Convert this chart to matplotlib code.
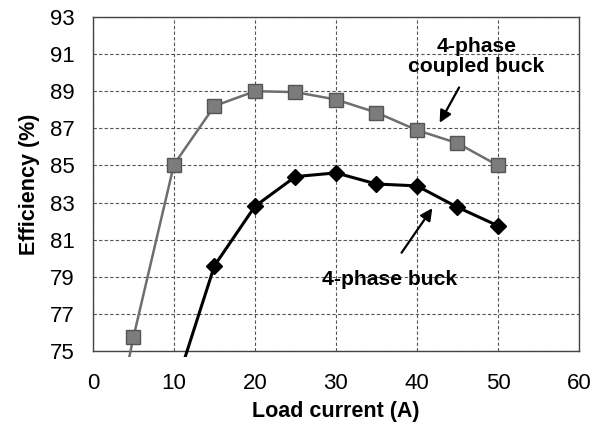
## Efficiency vs load current: 4-phase buck vs 4-phase coupled buck
import numpy as np
import matplotlib.pyplot as plt
from matplotlib.patches import Rectangle

plt.rcParams['font.family'] = ['Liberation Sans', 'DejaVu Sans']

## Data
load_coupled = [2.5, 5, 10, 15, 20, 25, 30, 35, 40, 45, 50]
eff_coupled  = [70.5, 75.75, 85.05, 88.2, 89.0, 88.95, 88.55, 87.85, 86.9, 86.2, 85.0]

load_buck = [10, 15, 20, 25, 30, 35, 40, 45, 50]
eff_buck  = [72.8, 79.6, 82.8, 84.4, 84.6, 84.0, 83.9, 82.75, 81.75]

x_ticks = [0, 10, 20, 30, 40, 50, 60]
y_ticks = [75, 77, 79, 81, 83, 85, 87, 89, 91, 93]

## Figure
fig = plt.figure(figsize=(5.92, 4.34), dpi=100)
ax = fig.add_axes([0.157, 0.191, 0.821, 0.770])

# lines leak a little below the frame, like in the original
clip = Rectangle((0, -0.018), 1, 1.018, transform=ax.transAxes)

l1, = ax.plot(load_coupled, eff_coupled, '-', color='#6e6e6e', lw=1.8,
              marker='s', ms=10, mfc='#7c7c7c', mec='#555555', zorder=3)
l2, = ax.plot(load_buck, eff_buck, '-', color='black', lw=2.2,
              marker='D', ms=8, mfc='black', mec='black', zorder=4)
for l in (l1, l2):
  l.set_clip_path(clip)

ax.set_xlim(0, 60)
ax.set_ylim(75, 93)
ax.set_xticks(x_ticks)
ax.set_yticks(y_ticks)
ax.tick_params(length=0, labelsize=16)
ax.tick_params(axis='x', pad=16)
ax.tick_params(axis='y', pad=13)
ax.grid(True, ls=(0, (3, 2)), color='#555555', lw=0.8)
ax.set_axisbelow(True)
for s in ax.spines.values():
  s.set_color('#444444')
  s.set_linewidth(1.0)

ax.set_xlabel('Load current (A)', fontsize=15.5, fontweight='bold', labelpad=5)
ax.set_ylabel('Efficiency (%)', fontsize=15.5, fontweight='bold', labelpad=7)

# annotations
ax.text(47.35, 90.87, '4-phase\ncoupled buck', ha='center', va='center',
        fontsize=15.2, fontweight='bold', linespacing=1.12)
ax.annotate('', xy=(42.8, 87.3), xytext=(45.2, 89.2),
            arrowprops=dict(arrowstyle='-|>', color='black', lw=1.6,
                            mutation_scale=18, shrinkA=0, shrinkB=0))
ax.text(36.6, 78.88, '4-phase buck', ha='center', va='center',
        fontsize=15.2, fontweight='bold')
ax.annotate('', xy=(41.9, 82.7), xytext=(38.1, 80.3),
            arrowprops=dict(arrowstyle='-|>', color='black', lw=1.6,
                            mutation_scale=18, shrinkA=0, shrinkB=0))

plt.savefig('out.png', dpi=100)
